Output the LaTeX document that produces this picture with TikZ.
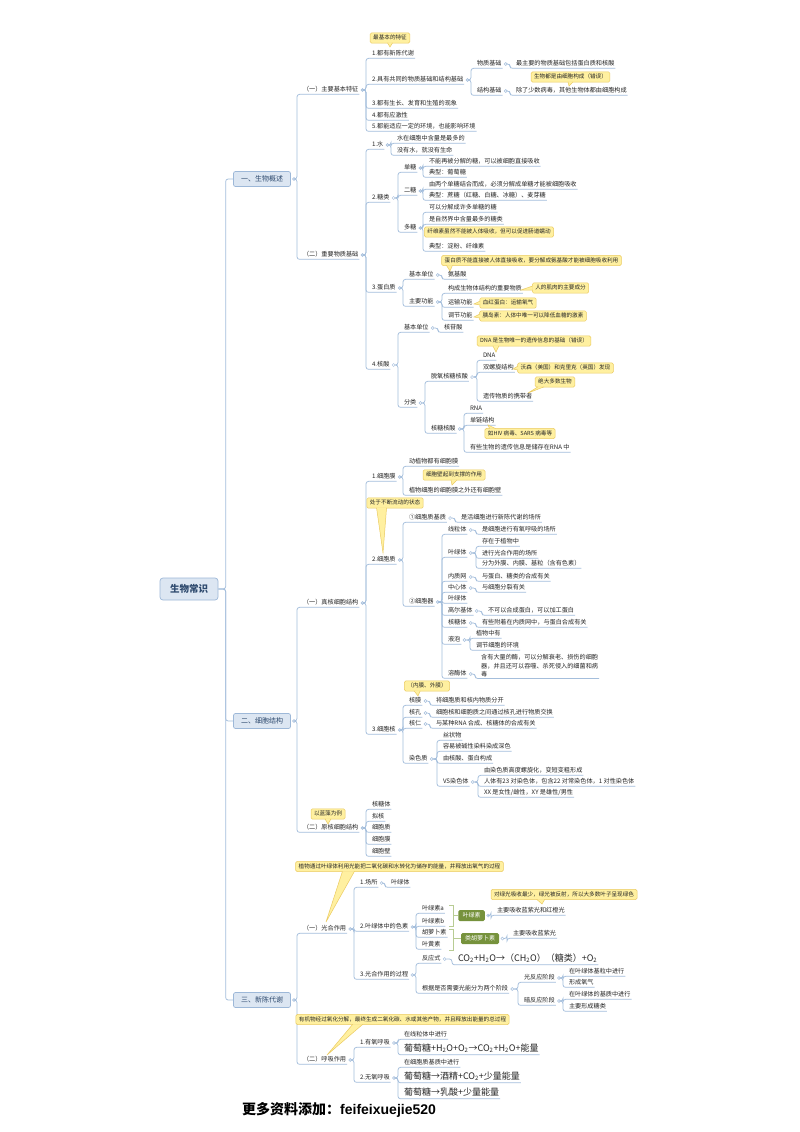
\documentclass[tikz,border=0pt]{standalone}
\usepackage{fontspec}
\setmainfont{Noto Sans CJK SC}
\newfontfamily\footlat{Liberation Sans}
\usetikzlibrary{calc}
\definecolor{ln}{HTML}{A4BEDC}
\definecolor{txt}{HTML}{262626}
\definecolor{clf}{HTML}{FFF0A0}
\definecolor{clb}{HTML}{EBCB62}
\definecolor{bxf}{HTML}{DCE6F2}
\definecolor{bxd}{HTML}{9DB8D8}
\definecolor{bxt}{HTML}{2E4A6E}
\definecolor{gf}{HTML}{76923C}
\definecolor{brkc}{HTML}{B8CC94}
\newcommand\Nd[5][]{\node[lf,#1] (#2) at (#3,#4) {#5};}
\newcommand\Mk[1]{\node[mk] (#1m) at ([xshift=3.2pt]#1.east) {};}
\newcommand\Cxs[2]{\foreach \kid in {#2}{\draw[conn] (#1m.east) -| ([xshift=-5pt]\kid.south west) -- (\kid.south east);}}
\newcommand\Ptr[3]{\fill[clf] #1 -- #3 -- #2 -- cycle; \draw[clb,line width=0.5pt] #1 -- #3 -- #2;}
\begin{document}
\begin{tikzpicture}[x=1pt,y=-1pt,
 lf/.style={anchor=west, inner xsep=0.8pt, inner ysep=1.2pt, text=txt, font=\fontsize{6.15pt}{7pt}\selectfont, text height=4.8pt, text depth=1.1pt},
 fml/.style={font=\fontsize{9pt}{10pt}\selectfont, text height=6.8pt, text depth=2pt},
 mk/.style={circle, draw=ln, fill=white, line width=0.5pt, minimum size=3pt, inner sep=0pt},
 conn/.style={draw=ln, line width=0.75pt, rounded corners=2.5pt},
 callout/.style={draw=clb, fill=clf, line width=0.5pt, rounded corners=1.5pt, text=txt, font=\fontsize{5.6pt}{6.5pt}\selectfont, inner xsep=3pt, inner ysep=2.4pt, text height=4.4pt, text depth=1.2pt},
 topbox/.style={draw=bxd, fill=bxf, line width=0.7pt, rounded corners=2pt, text=bxt, font=\fontsize{7pt}{8pt}\selectfont, minimum width=57pt, minimum height=15pt, inner sep=1pt},
 rootbox/.style={topbox, font=\fontsize{9.5pt}{11pt}\selectfont\bfseries, minimum width=58pt, minimum height=22pt, rounded corners=3pt},
 gbox/.style={fill=gf, text=white, rounded corners=1.5pt, font=\fontsize{6pt}{7pt}\selectfont, inner sep=1pt, minimum height=11pt},
 brk/.style={draw=brkc, line width=0.7pt}]
\useasboundingbox (0,0) rectangle (800,1132);
\fill[white] (0,0) rectangle (800,1132);
% root and level 1
\node[rootbox] (R) at (189,589) {生物常识};
\node[topbox] (A1) at (262,179) {一、生物概述};
\node[topbox] (A2) at (262,721) {二、细胞结构};
\node[topbox] (A3) at (262,1000) {三、新陈代谢};
% ===== 一 =====
\Nd{a1}{302}{90}{（一）主要基本特征}
\Nd{a2}{302}{255}{（二）重要物质基础}
\Nd{b11}{371}{54}{1.都有新陈代谢}
\Nd{b12}{371}{80}{2.具有共同的物质基础和结构基础}
\Nd{b13}{371}{104}{3.都有生长、发育和生殖的现象}
\Nd{b14}{371}{116}{4.都有应激性}
\Nd{b15}{371}{127}{5.都能适应一定的环境，也能影响环境}
\Nd{c1}{476}{64}{物质基础}
\Nd{c1a}{515}{64}{最主要的物质基础包括蛋白质和核酸}
\Nd{c2}{476}{91}{结构基础}
\Nd{c2a}{515}{91}{除了少数病毒，其他生物体都由细胞构成}
\Nd{d1}{371}{145}{1.水}
\Nd{d1a}{396}{139}{水在细胞中含量是最多的}
\Nd{d1b}{396}{151}{没有水，就没有生命}
\Nd{d2}{371}{198}{2.糖类}
\Nd{e1}{403}{168}{单糖}
\Nd{e1a}{428}{162}{不能再被分解的糖，可以被细胞直接吸收}
\Nd{e1b}{428}{173}{典型：葡萄糖}
\Nd{e2}{403}{191}{二糖}
\Nd{e2a}{428}{185}{由两个单糖结合而成，必须分解成单糖才能被细胞吸收}
\Nd{e2b}{428}{196}{典型：蔗糖（红糖、白糖、冰糖）、麦芽糖}
\Nd{e3}{403}{228}{多糖}
\Nd{e3a}{428}{208}{可以分解成许多单糖的糖}
\Nd{e3b}{428}{220}{是自然界中含量最多的糖类}
\Nd{e3c}{428}{247}{典型：淀粉、纤维素}
\Nd{d3}{371}{288}{3.蛋白质}
\Nd{f1}{408}{275}{基本单位}
\Nd{f1a}{447}{275}{氨基酸}
\Nd{f2}{408}{302}{主要功能}
\Nd{f2a}{447}{289}{构成生物体结构的重要物质}
\Nd{f2b}{447}{303}{运输功能}
\Nd{f2c}{447}{316}{调节功能}
\Nd{d4}{371}{365}{4.核酸}
\Nd{g1}{403}{328}{基本单位}
\Nd{g1a}{443}{328}{核苷酸}
\Nd{g2}{403}{403}{分类}
\Nd{h1}{430}{377}{脱氧核糖核酸}
\Nd{h1a}{482}{356}{DNA}
\Nd{h1b}{482}{368}{双螺旋结构}
\Nd{h1c}{482}{397}{遗传物质的携带者}
\Nd{h2}{430}{429}{核糖核酸}
\Nd{h2a}{469}{409}{RNA}
\Nd{h2b}{469}{421}{单链结构}
\Nd{h2c}{469}{448}{有些生物的遗传信息是储存在RNA 中}
% ===== 二 =====
\Nd{i1}{302}{603}{（一）真核细胞结构}
\Nd{i2}{302}{828}{（二）原核细胞结构}
\Nd{j1}{371}{477}{1.细胞膜}
\Nd{j1a}{408}{462}{动植物都有细胞膜}
\Nd{j1b}{408}{491}{植物细胞的细胞膜之外还有细胞壁}
\Nd{j2}{371}{560}{2.细胞质}
\Nd{l1}{408}{518}{①细胞质基质}
\Nd{l1a}{460}{518}{是活细胞进行新陈代谢的场所}
\Nd{l2}{408}{602}{②细胞器}
\Nd{n1}{447}{530}{线粒体}
\Nd{n1a}{481}{530}{是细胞进行有氧呼吸的场所}
\Nd{n2}{447}{553}{叶绿体}
\Nd{n2a}{481}{542}{存在于植物中}
\Nd{n2b}{481}{554}{进行光合作用的场所}
\Nd{n2c}{481}{564}{分为外膜、内膜、基粒（含有色素）}
\Nd{n3}{447}{577}{内质网}
\Nd{n3a}{481}{577}{与蛋白、糖类的合成有关}
\Nd{n4}{447}{588}{中心体}
\Nd{n4a}{481}{588}{与细胞分裂有关}
\Nd{n5}{447}{599}{叶绿体}
\Nd{n6}{447}{611}{高尔基体}
\Nd{n6a}{487}{611}{不可以合成蛋白，可以加工蛋白}
\Nd{n7}{447}{623}{核糖体}
\Nd{n7a}{481}{623}{有些附着在内质网中，与蛋白合成有关}
\Nd{n8}{447}{640}{液泡}
\Nd{n8a}{475}{634}{植物中有}
\Nd{n8b}{475}{646}{调节细胞的环境}
\Nd{n9}{447}{674}{溶酶体}
\Nd[anchor=south west,align=left,text height=,text depth=,font=\fontsize{6.15pt}{8.5pt}\selectfont]{n9a}{480.2}{678.5}{含有大量的酶，可以分解衰老、损伤的细胞\\器，并且还可以吞噬、杀死侵入的细菌和病\\毒}
\Nd{j3}{371}{730}{3.细胞核}
\Nd{o1}{408}{701}{核膜}
\Nd{o1a}{435}{701}{将细胞质和核内物质分开}
\Nd{o2}{408}{713}{核孔}
\Nd{o2a}{435}{713}{细胞核和细胞质之间通过核孔进行物质交换}
\Nd{o3}{408}{724}{核仁}
\Nd{o3a}{435}{724}{与某种RNA 合成、核糖体的合成有关}
\Nd{o4}{408}{759}{染色质}
\Nd{o4a}{442}{736}{丝状物}
\Nd{o4b}{442}{747}{容易被碱性染料染成深色}
\Nd{o4c}{442}{759}{由核酸、蛋白构成}
\Nd{o4d}{442}{782}{VS染色体}
\Nd{p1}{483}{771}{由染色质高度螺旋化，变短变粗形成}
\Nd{p2}{483}{782}{人体有23 对染色体，包含22 对常染色体，1 对性染色体}
\Nd{p3}{483}{793}{XX 是女性/雌性，XY 是雄性/男性}
\Nd{q1}{371}{805}{核糖体}
\Nd{q2}{371}{817}{拟核}
\Nd{q3}{371}{828}{细胞质}
\Nd{q4}{371}{840}{细胞膜}
\Nd{q5}{371}{852}{细胞壁}
% ===== 三 =====
\Nd{r1}{302}{929}{（一）光合作用}
\Nd{r2}{302}{1060}{（二）呼吸作用}
\Nd{s1}{359}{883}{1.场所}
\Nd{s1a}{390}{883}{叶绿体}
\Nd{s2}{359}{927}{2.叶绿体中的色素}
\Nd{t1}{421}{909}{叶绿素a}
\Nd{t2}{421}{922}{叶绿素b}
\Nd{t3}{421}{933}{胡萝卜素}
\Nd{t4}{421}{945}{叶黄素}
\node[gbox,minimum width=26.5pt] (u1) at (471.5,915.5) {叶绿素};
\node[gbox,minimum width=38pt] (u2) at (480,938.5) {类胡萝卜素};
\Nd{u1a}{496}{911}{主要吸收蓝紫光和红橙光}
\Nd{u2a}{512}{934}{主要吸收蓝紫光}
\Nd{s3}{359}{975}{3.光合作用的过程}
\Nd{v1}{421}{959}{反应式}
\Nd[fml]{v1a}{457}{959}{CO\textsubscript{2}+H\textsubscript{2}O→（CH\textsubscript{2}O）（糖类）+O\textsubscript{2}}
\Nd{v2}{421}{989}{根据是否需要光能分为两个阶段}
\Nd{w1}{523}{978}{光反应阶段}
\Nd{w1a}{568}{972}{在叶绿体基粒中进行}
\Nd{w1b}{568}{983}{形成氧气}
\Nd{w2}{523}{1001}{暗反应阶段}
\Nd{w2a}{568}{995}{在叶绿体的基质中进行}
\Nd{w2b}{568}{1007}{主要形成糖类}
\Nd{x1}{359}{1043}{1.有氧呼吸}
\Nd{x1a}{403}{1035}{在线粒体中进行}
\Nd[fml]{x1b}{403}{1049}{葡萄糖+H\textsubscript{2}O+O\textsubscript{2}→CO\textsubscript{2}+H\textsubscript{2}O+能量}
\Nd{x2}{359}{1078}{2.无氧呼吸}
\Nd{x2a}{403}{1063}{在细胞质基质中进行}
\Nd[fml]{x2b}{403}{1077}{葡萄糖→酒精+CO\textsubscript{2}+少量能量}
\Nd[fml]{x2c}{403}{1093}{葡萄糖→乳酸+少量能量}
% markers
\foreach \p in {A1,A2,A3,a1,a2,b12,c1,c2,d1,d2,e1,e2,e3,d3,f1,f2,d4,g1,g2,h1,h2,i1,i2,j1,j2,l1,l2,n1,n2,n3,n4,n6,n7,n8,n9,j3,o1,o2,o3,o4,o4d,r1,r2,s1,s2,u1,u2,s3,v1,v2,w1,w2,x1,x2}{\Mk{\p}}
% connectors
\foreach \kid in {A1,A2,A3}{\draw[conn] (R.east) -| ([xshift=-7.5pt]\kid.west) -- (\kid.west);}
\Cxs{A1}{a1,a2}
\Cxs{a1}{b11,b12,b13,b14,b15}
\Cxs{b12}{c1,c2}
\Cxs{c1}{c1a}
\Cxs{c2}{c2a}
\Cxs{a2}{d1,d2,d3,d4}
\Cxs{d1}{d1a,d1b}
\Cxs{d2}{e1,e2,e3}
\Cxs{e1}{e1a,e1b}
\Cxs{e2}{e2a,e2b}
\Cxs{e3}{e3a,e3b,e3c}
\Cxs{d3}{f1,f2}
\Cxs{f1}{f1a}
\Cxs{f2}{f2a,f2b,f2c}
\Cxs{d4}{g1,g2}
\Cxs{g1}{g1a}
\Cxs{g2}{h1,h2}
\Cxs{h1}{h1a,h1b,h1c}
\Cxs{h2}{h2a,h2b,h2c}
\Cxs{A2}{i1,i2}
\Cxs{i1}{j1,j2,j3}
\Cxs{j1}{j1a,j1b}
\Cxs{j2}{l1,l2}
\Cxs{l1}{l1a}
\Cxs{l2}{n1,n2,n3,n4,n5,n6,n7,n8,n9}
\Cxs{n1}{n1a}
\Cxs{n2}{n2a,n2b,n2c}
\Cxs{n3}{n3a}
\Cxs{n4}{n4a}
\Cxs{n6}{n6a}
\Cxs{n7}{n7a}
\Cxs{n8}{n8a,n8b}
\Cxs{n9}{n9a}
\Cxs{j3}{o1,o2,o3,o4}
\Cxs{o1}{o1a}
\Cxs{o2}{o2a}
\Cxs{o3}{o3a}
\Cxs{o4}{o4a,o4b,o4c,o4d}
\Cxs{o4d}{p1,p2,p3}
\Cxs{i2}{q1,q2,q3,q4,q5}
\Cxs{A3}{r1,r2}
\Cxs{r1}{s1,s2,s3}
\Cxs{s1}{s1a}
\Cxs{s2}{t1,t2,t3,t4}
\Cxs{u1}{u1a}
\Cxs{u2}{u2a}
\Cxs{s3}{v1,v2}
\Cxs{v1}{v1a}
\Cxs{v2}{w1,w2}
\Cxs{w1}{w1a,w1b}
\Cxs{w2}{w2a,w2b}
\Cxs{r2}{x1,x2}
\Cxs{x1}{x1a,x1b}
\Cxs{x2}{x2a,x2b,x2c}
% summary brackets
\draw[brk] (449,905) -- (453,905) -- (453,926) -- (449,926);
\draw[brk] (453,915.5) -- (u1.west);
\draw[brk] (449,929) -- (453,929) -- (453,950) -- (449,950);
\draw[brk] (453,938.5) -- (u2.west);
% callouts
\node[callout] (k1) at (390,38) {最基本的特征};
\node[callout] (k2) at (570.5,77) {生物都是由细胞构成（错误）};
\node[callout] (k3) at (489,232) {纤维素虽然不能被人体吸收，但可以促进肠道蠕动};
\node[callout] (k4) at (531.5,260.5) {蛋白质不能直接被人体直接吸收，要分解成氨基酸才能被细胞吸收利用};
\node[callout] (k5) at (560.5,288) {人的肌肉的主要成分};
\node[callout] (k6) at (508,303) {血红蛋白：运输氧气};
\node[callout] (k7) at (533,316) {胰岛素：人体中唯一可以降低血糖的激素};
\node[callout] (k8) at (534,341) {DNA 是生物唯一的遗传信息的基础（错误）};
\node[callout] (k9) at (565.5,368) {沃森（美国）和克里克（英国）发现};
\node[callout] (k10) at (555,382) {绝大多数生物};
\node[callout] (k11) at (520,433.5) {如HIV 病毒、SARS 病毒等};
\node[callout] (k12) at (454,475) {细胞壁起到支撑的作用};
\node[callout] (k13) at (395,503) {处于不断流动的状态};
\node[callout] (k14) at (427,686) {（内膜、外膜）};
\node[callout] (k15) at (328,814) {以蓝藻为例};
\node[callout] (k16) at (564,894.5) {对绿光吸收最少，绿光被反射，所以大多数叶子呈现绿色};
\node[callout] (k17) at (399.5,866.5) {植物通过叶绿体利用光能把二氧化碳和水转化为储存的能量，并释放出氧气的过程};
\node[callout] (k18) at (402.5,1019.5) {有机物经过氧化分解，最终生成二氧化碳、水或其他产物，并且释放出能量的总过程};
\Ptr{([xshift=-2.5pt,yshift=0.6pt]k1.south)}{([xshift=2.5pt,yshift=0.6pt]k1.south)}{(390,47)}
\Ptr{([xshift=-2.5pt,yshift=0.6pt]k2.south)}{([xshift=2.5pt,yshift=0.6pt]k2.south)}{(569,86)}
\Ptr{([xshift=5pt,yshift=0.6pt]k4.south west)}{([xshift=11pt,yshift=0.6pt]k4.south west)}{(450,271)}
\Ptr{([xshift=0.6pt,yshift=2pt]k5.west)}{([xshift=0.6pt,yshift=-2pt]k5.west)}{(521,290)}
\Ptr{([xshift=0.6pt,yshift=2pt]k6.west)}{([xshift=0.6pt,yshift=-2pt]k6.west)}{(474,304)}
\Ptr{([xshift=0.6pt,yshift=2pt]k7.west)}{([xshift=0.6pt,yshift=-2pt]k7.west)}{(474,317)}
\Ptr{([xshift=16pt,yshift=0.6pt]k8.south west)}{([xshift=22pt,yshift=0.6pt]k8.south west)}{(496,352)}
\Ptr{([xshift=0.6pt,yshift=2pt]k9.west)}{([xshift=0.6pt,yshift=-2pt]k9.west)}{(513,369)}
\Ptr{([xshift=3pt,yshift=0.6pt]k10.south west)}{([xshift=9pt,yshift=0.6pt]k10.south west)}{(528,393)}
\Ptr{([xshift=5pt,yshift=-0.6pt]k11.north west)}{([xshift=11pt,yshift=-0.6pt]k11.north west)}{(488,425)}
\Ptr{([xshift=-3pt,yshift=0.6pt]k12.south)}{([xshift=3pt,yshift=0.6pt]k12.south)}{(452,485)}
\Ptr{([xshift=10pt,yshift=0.6pt]k13.south west)}{([xshift=20pt,yshift=0.6pt]k13.south west)}{(383,553)}
\Ptr{([xshift=10pt,yshift=0.6pt]k14.south west)}{([xshift=16pt,yshift=0.6pt]k14.south west)}{(418,696)}
\Ptr{([xshift=-3pt,yshift=0.6pt]k15.south)}{([xshift=3pt,yshift=0.6pt]k15.south)}{(328,824)}
\Ptr{([xshift=46pt,yshift=0.6pt]k16.south west)}{([xshift=54pt,yshift=0.6pt]k16.south west)}{(542,904)}
\Ptr{([xshift=47pt,yshift=0.6pt]k17.south west)}{([xshift=59pt,yshift=0.6pt]k17.south west)}{(326,922)}
\Ptr{([xshift=57pt,yshift=0.6pt]k18.south west)}{([xshift=67pt,yshift=0.6pt]k18.south west)}{(327,1055)}
% footer
\node[anchor=west, inner sep=0pt, text=black, font=\fontsize{14pt}{16pt}\selectfont\bfseries] (ft) at (242,1110) {更多资料添加：{\footlat feifeixuejie520}};
\end{tikzpicture}
\end{document}
